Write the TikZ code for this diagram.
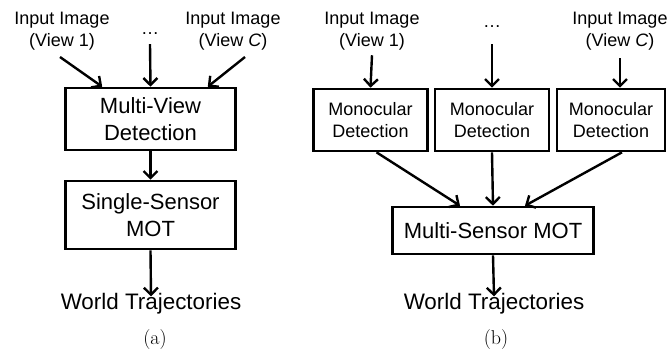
\documentclass[tikz,border=0pt]{standalone}
\usepackage{fontspec}
\setsansfont{Liberation Sans}
\usetikzlibrary{arrows.meta}
\tikzset{
  box/.style={draw, line width=2.6pt, inner sep=0pt, align=center, font=\sffamily\fontsize{22}{26.5}\selectfont},
  smallbox/.style={box, font=\sffamily\fontsize{18}{22.5}\selectfont},
  lbl/.style={inner sep=0pt, align=center, font=\sffamily\fontsize{18}{22}\selectfont},
  outlbl/.style={inner sep=0pt, font=\sffamily\fontsize{22.4}{26}\selectfont},
  subcap/.style={inner sep=0pt, font=\rmfamily\fontsize{20}{24}\selectfont},
  arr/.style={line width=2.4pt, -{Straight Barb[length=7pt,width=14pt,line width=2.4pt]}},
}
\begin{document}
\begin{tikzpicture}[x=1pt,y=-1pt]
\useasboundingbox (0,0) rectangle (670,357);

% ---- (a) multi-view detection followed by single-sensor tracking ----
\node[lbl] (ain1) at (62,31) {Input Image\\(View 1)};
\node[lbl] (aindots) at (150,34) {\dots};
\node[lbl] (ainC) at (233,31) {Input Image\\(View \textit{C})};
\node[box, minimum width=170pt, minimum height=62pt] (mvd) at (150.5,119) {Multi-View\\Detection};
\node[box, minimum width=170pt, minimum height=68pt] (ssm) at (150.5,215) {Single-Sensor\\MOT};
\node[outlbl] (aout) at (151,304) {World Trajectories};
\node[subcap] (capa) at (155,340) {(a)};

\coordinate (a1s) at (60,57);
\coordinate (aCs) at (245,57);
\draw[arr] (a1s) -- ([xshift=38pt]mvd.north west);
\draw[arr] ([yshift=-9pt]aindots.south) -- (mvd.north);
\draw[arr] (aCs) -- ([xshift=-29pt]mvd.north east);
\draw[arr] (mvd.south) -- (ssm.north);
\draw[arr] (ssm.south) -- ([yshift=-3pt]aout.north);

% ---- (b) per-view monocular detection followed by multi-sensor tracking ----
\node[lbl] (bin1) at (372,31) {Input Image\\(View 1)};
\node[lbl] (bindots) at (492,27) {\dots};
\node[lbl] (binC) at (620,31) {Input Image\\(View \textit{C})};
\node[smallbox, minimum width=114pt, minimum height=62pt] (m1) at (370.5,120) {Monocular\\Detection};
\node[smallbox, minimum width=114pt, minimum height=62pt] (m2) at (492,120) {Monocular\\Detection};
\node[smallbox, minimum width=108pt, minimum height=62pt] (m3) at (611,120) {Monocular\\Detection};
\node[box, minimum width=201pt, minimum height=47pt] (msm) at (493,230.5) {Multi-Sensor MOT};
\node[outlbl] (bout) at (494,304) {World Trajectories};
\node[subcap] (capb) at (496,340) {(b)};

\draw[arr] ([yshift=-5pt]bin1.south) -- (m1.north);
\draw[arr] ([yshift=-16pt]bindots.south) -- (m2.north);
\draw[arr] ([yshift=-8pt]binC.south) -- ([xshift=9pt]m3.north);
\draw[arr] ([xshift=6pt]m1.south) -- ([xshift=-33pt]msm.north);
\draw[arr] (m2.south) -- (msm.north);
\draw[arr] ([xshift=11pt]m3.south) -- ([xshift=32pt]msm.north);
\draw[arr] (msm.south) -- ([yshift=-3pt]bout.north);
\end{tikzpicture}
\end{document}
